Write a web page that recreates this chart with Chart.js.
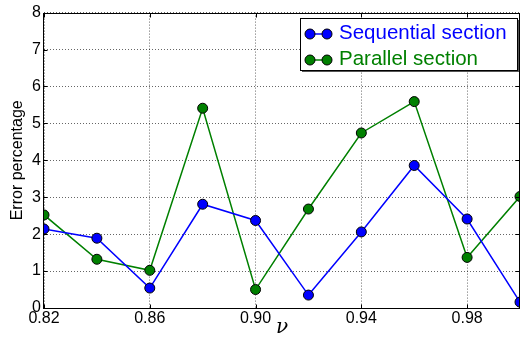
<!DOCTYPE html>
<html>
<head>
<meta charset="utf-8">
<script src="https://cdn.jsdelivr.net/npm/chart.js@4/dist/chart.umd.min.js"></script>
<style>
  html, body { margin: 0; padding: 0; background: #fff; }
  #wrap { width: 520px; height: 340px; position: relative; }
</style>
</head>
<body>
<div id="wrap"><canvas id="chart" width="520" height="340"></canvas></div>
<script>
// data
const nuValues = [0.82, 0.84, 0.86, 0.88, 0.90, 0.92, 0.94, 0.96, 0.98, 1.00];
const seqError = [2.14, 1.89, 0.54, 2.81, 2.37, 0.35, 2.06, 3.86, 2.41, 0.16];
const parError = [2.52, 1.32, 1.02, 5.41, 0.50, 2.68, 4.74, 5.59, 1.37, 3.02];
const xTickValues = [0.82, 0.86, 0.90, 0.94, 0.98];
const seriesNames = ['Sequential section', 'Parallel section'];

const labelFont = '"Liberation Sans", Arial, Helvetica, sans-serif';

function toPoints(xs, ys) {
    return xs.map((x, i) => ({ x: x, y: ys[i] }));
}

// MATLAB-style box with inward tick marks
const framePlugin = {
    id: 'frame',
    afterDatasetsDraw(chart) {
        const ctx = chart.ctx;
        const a = chart.chartArea;
        const xs = chart.scales.x, ys = chart.scales.y;
        const l = Math.round(a.left) - 0.5, r = Math.round(a.right) - 0.5;
        const t = Math.round(a.top) + 0.5, b = Math.round(a.bottom) + 0.5;
        ctx.save();
        ctx.strokeStyle = '#000';
        ctx.lineWidth = 1;
        ctx.strokeRect(l, t, r - l, b - t);
        ctx.beginPath();
        xs.ticks.forEach(tk => {
            const px = Math.round(xs.getPixelForValue(tk.value)) + 0.5;
            ctx.moveTo(px, b); ctx.lineTo(px, b - 4);
            ctx.moveTo(px, t); ctx.lineTo(px, t + 4);
        });
        ys.ticks.forEach(tk => {
            const py = Math.round(ys.getPixelForValue(tk.value)) + 0.5;
            ctx.moveTo(l, py); ctx.lineTo(l + 4, py);
            ctx.moveTo(r, py); ctx.lineTo(r - 4, py);
        });
        ctx.stroke();
        ctx.restore();
    }
};

// boxed legend in the upper right corner
const boxLegendPlugin = {
    id: 'boxLegend',
    afterDraw(chart) {
        const ctx = chart.ctx;
        const a = chart.chartArea;
        const boxW = 217, boxH = 52;
        const bx = Math.round(a.right) - 3 - boxW, by = Math.round(a.top) + 5;
        ctx.save();
        ctx.fillStyle = '#555';
        ctx.fillRect(bx + 2, by + 2, boxW, boxH);
        ctx.fillStyle = '#fff';
        ctx.fillRect(bx, by, boxW, boxH);
        ctx.strokeStyle = '#000';
        ctx.lineWidth = 1;
        ctx.strokeRect(bx + 0.5, by + 0.5, boxW, boxH);
        ctx.font = '20.5px ' + labelFont;
        ctx.textBaseline = 'alphabetic';
        chart.data.datasets.forEach((ds, i) => {
            const cy = by + 16 + i * 26;
            ctx.strokeStyle = ds.borderColor;
            ctx.lineWidth = 1.5;
            ctx.beginPath();
            ctx.moveTo(bx + 10, cy); ctx.lineTo(bx + 27, cy);
            ctx.stroke();
            [bx + 10, bx + 27].forEach(mx => {
                ctx.beginPath();
                ctx.arc(mx, cy, 5, 0, Math.PI * 2);
                ctx.fillStyle = ds.pointBackgroundColor;
                ctx.fill();
                ctx.strokeStyle = '#000';
                ctx.lineWidth = 1;
                ctx.stroke();
            });
            ctx.fillStyle = ds.borderColor;
            ctx.fillText(ds.label, bx + 39, cy + 5);
        });
        ctx.restore();
    }
};

const makeSeries = (label, ys, color) => ({
    label: label,
    data: toPoints(nuValues, ys),
    borderColor: color,
    backgroundColor: color,
    pointBackgroundColor: color,
    pointBorderColor: '#000',
    pointBorderWidth: 1,
    pointRadius: 5,
    borderWidth: 1.5,
    tension: 0,
    clip: 0
});

new Chart(document.getElementById('chart'), {
    type: 'line',
    data: {
        datasets: [
            makeSeries(seriesNames[0], seqError, '#0000ff'),
            makeSeries(seriesNames[1], parError, '#008000')
        ]
    },
    options: {
        responsive: false,
        animation: false,
        layout: { autoPadding: false, padding: { top: 12, right: 0, left: 0, bottom: 0 } },
        plugins: {
            legend: { display: false },
            tooltip: { enabled: false }
        },
        scales: {
            x: {
                type: 'linear',
                min: 0.82,
                max: 1.00,
                afterBuildTicks: scale => {
                    scale.ticks = xTickValues.map(v => ({ value: v }));
                },
                afterFit: scale => {
                    scale.height = 32;
                    scale.paddingLeft = 0;
                    scale.paddingRight = 0;
                },
                grid: { color: 'rgba(0,0,0,0.6)', lineWidth: 1, drawTicks: false },
                border: { display: false, dash: [1, 2] },
                ticks: {
                    color: '#000',
                    padding: 1,
                    maxRotation: 0,
                    autoSkip: false,
                    font: { family: labelFont, size: 16 },
                    callback: v => Number(v).toFixed(2)
                },
                title: {
                    display: true,
                    text: 'ν',
                    color: '#000',
                    padding: { top: 0, bottom: 0 },
                    font: { family: '"DejaVu Serif", "Liberation Serif", serif', style: 'italic', size: 20 }
                }
            },
            y: {
                min: 0,
                max: 8,
                afterFit: scale => { scale.width = 44; },
                grid: { color: 'rgba(0,0,0,0.6)', lineWidth: 1, drawTicks: false },
                border: { display: false, dash: [1, 2] },
                ticks: {
                    stepSize: 1,
                    color: '#000',
                    padding: 3,
                    font: { family: labelFont, size: 16 }
                },
                title: {
                    display: true,
                    text: 'Error percentage',
                    color: '#000',
                    padding: { top: 8, bottom: 0 },
                    font: { family: labelFont, size: 16 }
                }
            }
        }
    },
    plugins: [framePlugin, boxLegendPlugin]
});
</script>
</body>
</html>
